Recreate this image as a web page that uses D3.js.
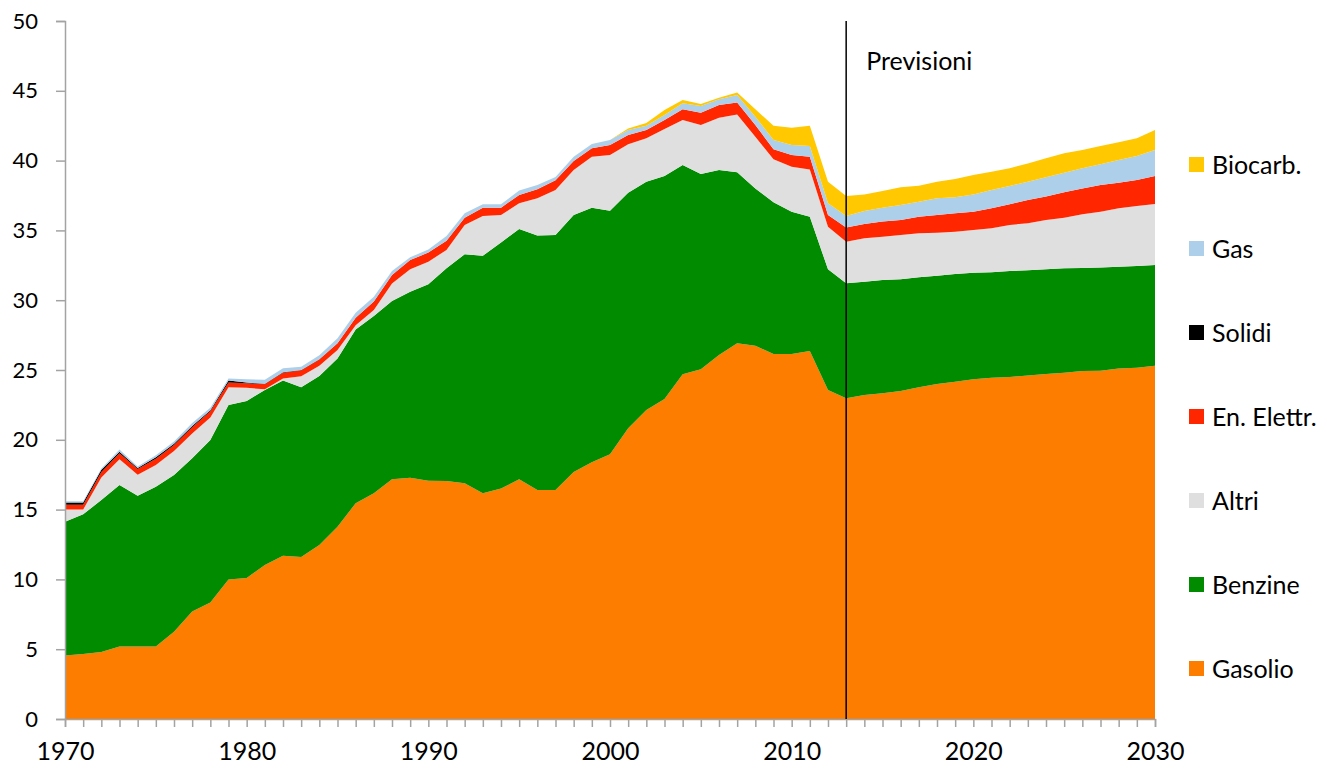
<!DOCTYPE html>
<meta charset="utf-8">
<head>
  <title>Consumi trasporti</title>
</head>
<style>
body {
  margin: 0;
  background: #fff;
  font-family: Lato, "Open Sans", sans-serif;
}
.axis path, .axis line {
  stroke: #a3a3a3;
  stroke-width: 1.5px;
}
.axis text {
  fill: #000;
  font-family: Lato, sans-serif;
}
.y.axis text { font-size: 22px; }
.x.axis text { font-size: 25px; }
.legend text {
  font-size: 25px;
  fill: #000;
}
</style>
<body>
<svg width="1327" height="769"></svg>
<script src="https://cdn.jsdelivr.net/npm/d3@7"></script>
<script>
// anni 1970-2030, valori per fonte (strati impilati)
var years = d3.range(1970, 2031);

var gasolio = [4.55,4.65,4.8,5.2,5.2,5.2,6.25,7.7,8.35,10.0,
  10.1,11.03,11.7,11.6,12.46,13.78,15.45,16.17,17.17,17.29,
  17.07,17.05,16.88,16.17,16.52,17.17,16.4,16.4,17.7,18.39,
  18.96,20.82,22.13,22.92,24.69,25.05,26.07,26.91,26.74,26.15,
  26.15,26.36,23.57,22.97,23.21,23.33,23.5,23.76,24.0,24.16,
  24.33,24.45,24.5,24.6,24.71,24.81,24.93,24.95,25.1,25.17,
  25.31];
var benzine = [9.58,10.01,10.89,11.56,10.8,11.44,11.23,10.97,11.64,12.5,
  12.68,12.54,12.54,12.16,12.11,12.05,12.45,12.7,12.78,13.32,
  14.08,15.23,16.41,17.02,17.61,17.93,18.24,18.27,18.4,18.24,
  17.45,16.88,16.36,15.98,14.99,13.99,13.26,12.25,11.27,10.86,
  10.19,9.62,8.64,8.24,8.12,8.12,8.0,7.88,7.76,7.72,
  7.64,7.55,7.59,7.54,7.5,7.47,7.37,7.4,7.3,7.28,
  7.21];
var altri = [0.87,0.34,1.61,1.84,1.5,1.56,1.72,1.78,1.61,1.26,
  0.94,0.05,0.16,0.79,0.73,0.6,0.3,0.43,1.25,1.6,
  1.61,1.32,2.1,2.84,1.97,1.84,2.66,3.22,3.23,3.65,
  3.99,3.47,3.11,3.36,3.23,3.51,3.74,4.15,3.7,3.08,
  3.22,3.39,3.06,2.98,3.1,3.1,3.17,3.15,3.08,3.03,
  3.06,3.15,3.3,3.37,3.53,3.63,3.85,3.99,4.18,4.3,
  4.37];
var elettr = [0.35,0.35,0.4,0.43,0.4,0.45,0.43,0.45,0.45,0.34,
  0.33,0.37,0.41,0.43,0.46,0.48,0.55,0.6,0.6,0.67,
  0.65,0.66,0.52,0.6,0.53,0.6,0.64,0.7,0.64,0.6,
  0.72,0.66,0.59,0.65,0.76,0.88,0.91,0.86,0.84,0.72,
  0.84,0.91,0.83,1.01,1.03,1.08,1.07,1.19,1.26,1.31,
  1.31,1.43,1.48,1.67,1.68,1.82,1.86,1.91,1.84,1.86,
  2.01];
var solidi = [0.15,0.15,0.15,0.12,0.08,0.1,0.09,0.08,0.07,0.14,
  0.05,0.03,0.02,0.02,0.01,0,0,0,0,0,
  0,0,0,0,0,0,0,0,0,0,
  0,0,0,0,0,0,0,0,0,0,
  0,0,0,0,0,0,0,0,0,0,
  0,0,0,0,0,0,0,0,0,0,
  0];
var gas = [0.1,0.1,0.1,0.15,0.1,0.15,0.15,0.22,0.18,0.16,
  0.23,0.29,0.29,0.24,0.28,0.36,0.35,0.35,0.3,0.19,
  0.23,0.34,0.31,0.24,0.24,0.31,0.31,0.24,0.31,0.31,
  0.36,0.36,0.31,0.36,0.43,0.48,0.41,0.53,0.6,0.67,
  0.72,0.77,0.84,0.83,0.93,1.0,1.08,1.08,1.2,1.15,
  1.24,1.31,1.31,1.31,1.38,1.4,1.44,1.48,1.62,1.72,
  1.86];
var biocarb = [0,0,0,0,0,0,0,0,0,0,
  0,0,0,0,0,0,0,0,0,0,
  0,0,0,0,0,0,0,0,0,0,
  0,0.11,0.2,0.35,0.24,0.15,0.12,0.17,0.52,1.02,
  1.24,1.45,1.55,1.43,1.19,1.19,1.27,1.14,1.19,1.31,
  1.39,1.31,1.27,1.31,1.36,1.39,1.31,1.32,1.27,1.27,
  1.43];

var keys = ["Gasolio", "Benzine", "Altri", "En. Elettr.", "Solidi", "Gas", "Biocarb."];
var series = [gasolio, benzine, altri, elettr, solidi, gas, biocarb];
var colors = ["#fd7d00", "#008b00", "#dfdfdf", "#ff2600", "#000000", "#aecfea", "#ffc800"];
var yTicks = [0, 5, 10, 15, 20, 25, 30, 35, 40, 45, 50];
var forecastYear = 2013;

var rows = years.map(function(y, i) {
  var r = {year: y};
  keys.forEach(function(k, j) { r[k] = series[j][i]; });
  return r;
});

var svg = d3.select("svg");
var margin = {left: 65, top: 21};
var width = 1090, height = 698;
var g = svg.append("g").attr("transform", "translate(" + margin.left + "," + margin.top + ")");

var x = d3.scaleLinear().domain([1970, 2030]).range([0, width]);
var y = d3.scaleLinear().domain([0, 50]).range([height, 0]);
var color = d3.scaleOrdinal().domain(keys).range(colors);

var stacked = d3.stack().keys(keys)(rows);

var area = d3.area()
  .x(function(d) { return x(d.data.year); })
  .y0(function(d) { return y(d[0]); })
  .y1(function(d) { return y(d[1]); });

g.selectAll(".layer")
  .data(stacked)
  .enter().append("path")
  .attr("class", "layer")
  .attr("fill", function(d) { return color(d.key); })
  .attr("d", area);

// assi
g.append("g")
  .attr("class", "y axis")
  .call(d3.axisLeft(y).tickValues(yTicks).tickSize(9).tickPadding(18));

g.append("g")
  .attr("class", "x axis")
  .attr("transform", "translate(0," + height + ")")
  .call(d3.axisBottom(x).tickValues(years).tickSize(8).tickPadding(15)
    .tickFormat(function(d) { return d % 10 === 0 ? d : ""; }));

// linea previsioni
g.append("line")
  .attr("x1", x(forecastYear)).attr("x2", x(forecastYear))
  .attr("y1", y(50)).attr("y2", y(0))
  .attr("stroke", "#000").attr("stroke-width", 1.5);

g.append("text")
  .attr("x", x(forecastYear) + 20)
  .attr("y", 49)
  .attr("font-size", 25)
  .text("Previsioni");

// legenda
var legend = svg.append("g").attr("class", "legend")
  .selectAll("g")
  .data(keys.slice().reverse())
  .enter().append("g")
  .attr("transform", function(d, i) { return "translate(1189," + (165 + i * 84) + ")"; });

legend.append("rect")
  .attr("y", -8).attr("width", 15).attr("height", 15)
  .attr("fill", function(d) { return color(d); });

legend.append("text")
  .attr("x", 23).attr("dy", "0.35em")
  .text(function(d) { return d; });
</script>
</body>
</html>
